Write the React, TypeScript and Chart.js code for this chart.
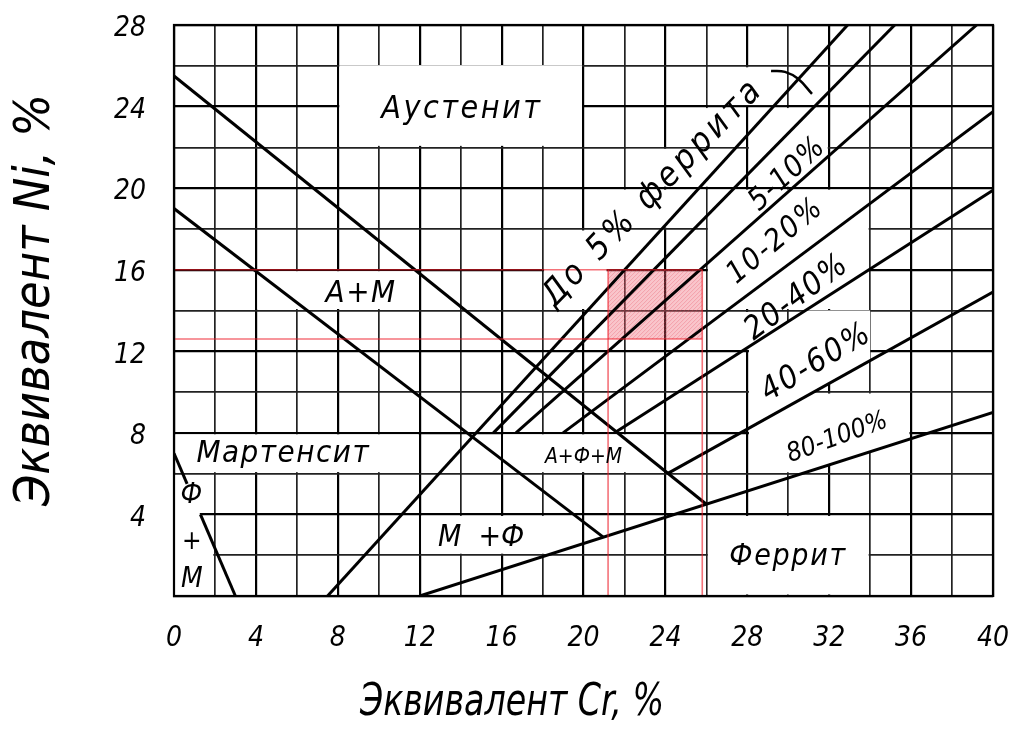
import React, { useEffect, useRef } from 'react';
import { Chart, registerables } from 'chart.js';

Chart.register(...registerables);

const FONT = "'DejaVu Sans Condensed', 'Liberation Sans Narrow', 'DejaVu Sans', sans-serif";

// ---- axis ticks ----
const crTickLabels = ['0', '4', '8', '12', '16', '20', '24', '28', '32', '36', '40'];
const niTickLabels = ['4', '8', '12', '16', '20', '24', '28'];

// ---- phase boundary lines (Cr-eq, Ni-eq) ----
const austeniteBoundary = [{ x: 0, y: 25.5 }, { x: 26, y: 4.5 }];
const martensiteBoundary = [{ x: 0, y: 19 }, { x: 20.95, y: 2.9 }];
const ferrite0 = [{ x: 7.5, y: 0 }, { x: 32.9, y: 28 }];
const ferrite5 = [{ x: 15.6, y: 8 }, { x: 35.2, y: 28 }];
const ferrite10 = [{ x: 16.7, y: 8 }, { x: 39.2, y: 28 }];
const ferrite20 = [{ x: 19.0, y: 8 }, { x: 40, y: 23.75 }];
const ferrite40 = [{ x: 21.6, y: 8.05 }, { x: 40, y: 19.9 }];
const ferrite60 = [{ x: 24.1, y: 6 }, { x: 40, y: 14.9 }];
const ferrite100 = [{ x: 12, y: 0 }, { x: 40, y: 9 }];
const fmUpper = [{ x: 0, y: 7 }, { x: 0.64, y: 5.5 }];
const fmLower = [{ x: 1.29, y: 4 }, { x: 3, y: 0 }];
const leaderArc = [{ x: 29.16, y: 25.75 }, { x: 29.84, y: 25.7 }, { x: 30.48, y: 25.36 }, { x: 31.16, y: 24.62 }];

// ---- red marking lines ----
const redNi16 = [{ x: 0, y: 16 }, { x: 25.8, y: 16 }];
const redNi126 = [{ x: 0, y: 12.6 }, { x: 25.8, y: 12.6 }];
const redCr212 = [{ x: 21.2, y: 0 }, { x: 21.2, y: 16 }];
const redCr258 = [{ x: 25.8, y: 0 }, { x: 25.8, y: 16 }];
const shadedRange = { cr: [21.2, 25.8], ni: [12.6, 16] };

// ---- regions where the grid is blanked behind labels [x1, x2, y1, y2] ----
const blankRects = [
  [8, 20, 22, 26.1],
  [4, 12, 14, 16],
  [0, 12, 6, 8],
  [16, 24, 6, 8],
  [12, 20, 2, 4],
  [26, 34, 0, 4],
  [18, 21.2, 14, 18],
  [21.2, 24, 16, 18],
  [20, 26, 18, 20],
  [22, 28, 20, 22],
  [24, 28, 22, 24],
  [26, 30, 24, 26],
  [28, 32, 20, 24],
  [26, 34, 14, 20],
  [26, 30, 12, 14],
];
const blankPolys = [
  [[0, 0], [0, 5.93], [0.45, 5.93], [1.92, 2.5], [1.92, 0]],
  [[28.08, 8.18], [28.08, 12.17], [30.84, 14], [34, 14], [34, 11.54]],
  [[28.08, 6.07], [28.08, 9.93], [35.92, 9.93], [35.92, 7.71], [30.7, 6.07]],
];

// ---- text labels ----
const regionLabels = [
  { text: 'Аустенит', x: 14.0, y: 23.85, size: 32, rot: 0, sp: 2.5 },
  { text: 'А+М', x: 9.1, y: 14.8, size: 31, rot: 0, sp: 1.5 },
  { text: 'Мартенсит', x: 5.3, y: 6.95, size: 31, rot: 0, sp: 1.5 },
  { text: 'А+Ф+М', x: 20.0, y: 6.8, size: 21, rot: 0, sp: 0 },
  { text: 'М  +Ф', x: 15.0, y: 2.85, size: 30, rot: 0, sp: 0 },
  { text: 'Феррит', x: 29.95, y: 1.9, size: 30, rot: 0, sp: 1.7 },
  { text: 'Ф', x: 0.85, y: 4.9, size: 28, rot: 0, sp: 0 },
  { text: '+', x: 0.87, y: 2.65, size: 26, rot: 0, sp: 0 },
  { text: 'М', x: 0.87, y: 0.8, size: 28, rot: 0, sp: 0 },
  { text: 'До 5% феррита', x: 23.35, y: 19.7, size: 34, rot: 46, sp: 4 },
  { text: '5-10%', x: 29.95, y: 20.65, size: 30, rot: 43, sp: 1.2 },
  { text: '10-20%', x: 29.35, y: 17.36, size: 30, rot: 40, sp: 2 },
  { text: '20-40%', x: 30.4, y: 14.6, size: 32, rot: 37, sp: 1.7 },
  { text: '40-60%', x: 31.35, y: 11.4, size: 32, rot: 31, sp: 2 },
  { text: '80-100%', x: 32.4, y: 7.75, size: 26, rot: 20, sp: 0 },
];

const X_TITLE = 'Эквивалент Cr, %';
const Y_TITLE = 'Эквивалент Ni, %';

const diagramPlugin = {
  id: 'diagram',
  beforeDatasetsDraw(chart: any) {
    const { ctx, scales } = chart;
    const px = (v: number) => scales.x.getPixelForValue(v);
    const py = (v: number) => scales.y.getPixelForValue(v);
    ctx.save();
    ctx.fillStyle = '#ffffff';
    for (const r of blankRects) {
      const l = px(r[0]) + 1.5;
      const rr = px(r[1]) - 1.5;
      const t = py(r[3]) + 1.5;
      const b = py(r[2]) - 1.5;
      ctx.fillRect(l, t, rr - l, b - t);
    }
    for (const poly of blankPolys) {
      ctx.beginPath();
      poly.forEach((p, i) => {
        if (i === 0) ctx.moveTo(px(p[0]), py(p[1]));
        else ctx.lineTo(px(p[0]), py(p[1]));
      });
      ctx.closePath();
      ctx.fill();
    }
    // shaded area
    const sx = px(shadedRange.cr[0]);
    const sx2 = px(shadedRange.cr[1]);
    const sy = py(shadedRange.ni[1]);
    const sy2 = py(shadedRange.ni[0]);
    ctx.fillStyle = 'rgba(238, 95, 110, 0.36)';
    ctx.fillRect(sx, sy, sx2 - sx, sy2 - sy);
    ctx.beginPath();
    ctx.rect(sx, sy, sx2 - sx, sy2 - sy);
    ctx.clip();
    ctx.strokeStyle = 'rgba(230, 70, 85, 0.28)';
    ctx.lineWidth = 1;
    for (let k = -80; k < 200; k += 4) {
      ctx.beginPath();
      ctx.moveTo(sx + k, sy2);
      ctx.lineTo(sx + k + (sy2 - sy), sy);
      ctx.stroke();
    }
    ctx.restore();
  },
  afterDatasetsDraw(chart: any) {
    const { ctx, scales, chartArea } = chart;
    const px = (v: number) => scales.x.getPixelForValue(v);
    const py = (v: number) => scales.y.getPixelForValue(v);
    ctx.save();
    ctx.strokeStyle = '#000';
    ctx.lineWidth = 2.2;
    ctx.strokeRect(chartArea.left, chartArea.top, chartArea.right - chartArea.left, chartArea.bottom - chartArea.top);
    ctx.fillStyle = '#000';
    ctx.textAlign = 'center';
    ctx.textBaseline = 'middle';
    for (const lb of regionLabels) {
      ctx.save();
      ctx.translate(px(lb.x), py(lb.y));
      ctx.rotate((-lb.rot * Math.PI) / 180);
      ctx.font = `italic ${lb.size}px ${FONT}`;
      (ctx as any).letterSpacing = `${lb.sp}px`;
      ctx.fillText(lb.text, lb.sp / 2, 0);
      ctx.restore();
    }
    ctx.save();
    ctx.translate(512, 704);
    ctx.scale(0.84, 1);
    ctx.font = `italic 44px ${FONT}`;
    ctx.fillText(X_TITLE, 0, 0);
    ctx.restore();
    ctx.save();
    ctx.translate(36, 300);
    ctx.rotate(-Math.PI / 2);
    ctx.font = `italic 50px ${FONT}`;
    ctx.fillText(Y_TITLE, 0, 0);
    ctx.restore();
    ctx.restore();
  },
};

const black = (data: any[], width = 3, tension = 0) => ({
  data,
  showLine: true,
  borderColor: '#000',
  borderWidth: width,
  pointRadius: 0,
  tension,
  fill: false,
});
const red = (data: any[]) => ({
  data,
  showLine: true,
  borderColor: 'rgba(238, 28, 38, 0.62)',
  borderWidth: 1.6,
  pointRadius: 0,
  fill: false,
});

export default function App() {
  const ref = useRef<HTMLCanvasElement | null>(null);
  useEffect(() => {
    if (!ref.current) return;
    const gridColor = (c: any) => (c.tick && c.tick.value % 4 === 0 ? '#000' : '#222');
    const gridWidth = (c: any) => (c.tick && c.tick.value % 4 === 0 ? 2.2 : 1.7);
    const tickFont = { family: FONT, size: 28, style: 'italic' as const };
    const chart = new Chart(ref.current, {
      type: 'scatter',
      data: {
        datasets: [
          red(redNi16),
          red(redNi126),
          red(redCr212),
          red(redCr258),
          black(austeniteBoundary),
          black(martensiteBoundary),
          black(ferrite0),
          black(ferrite5),
          black(ferrite10),
          black(ferrite20),
          black(ferrite40),
          black(ferrite60),
          black(ferrite100),
          black(fmUpper),
          black(fmLower),
          black(leaderArc, 2.5, 0.4),
        ] as any,
      },
      options: {
        responsive: false,
        animation: false,
        devicePixelRatio: 1,
        layout: { padding: { left: 0, right: 21, top: 25, bottom: 0 } },
        plugins: { legend: { display: false }, tooltip: { enabled: false } },
        scales: {
          x: {
            type: 'linear',
            min: 0,
            max: 40,
            afterFit: (s: any) => {
              s.height = 160;
              s.paddingLeft = 0;
              s.paddingRight = 0;
            },
            ticks: {
              stepSize: 2,
              autoSkip: false,
              maxRotation: 0,
              padding: 26,
              color: '#000',
              font: tickFont,
              callback: (v: any) => (crTickLabels.includes(String(v)) ? String(v) : ''),
            },
            grid: { color: gridColor, lineWidth: gridWidth, drawTicks: false },
            border: { display: true, color: '#000', width: 2 },
          },
          y: {
            type: 'linear',
            min: 0,
            max: 28,
            afterFit: (s: any) => {
              s.width = 174;
              s.paddingTop = 0;
              s.paddingBottom = 0;
            },
            ticks: {
              stepSize: 2,
              autoSkip: false,
              padding: 28,
              labelOffset: 4,
              color: '#000',
              font: tickFont,
              callback: (v: any) => (niTickLabels.includes(String(v)) ? String(v) : ''),
            },
            grid: { color: gridColor, lineWidth: gridWidth, drawTicks: false },
            border: { display: true, color: '#000', width: 2 },
          },
        },
      },
      plugins: [diagramPlugin],
    });
    return () => chart.destroy();
  }, []);
  return (
    <div style={{ position: 'absolute', left: 0, top: 0, width: 1014, height: 756, background: '#fff' }}>
      <canvas ref={ref} width={1014} height={756} />
    </div>
  );
}
